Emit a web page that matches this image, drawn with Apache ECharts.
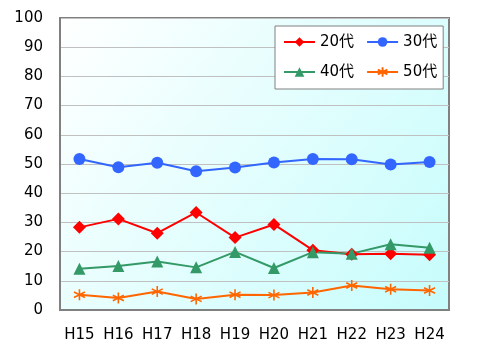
<!DOCTYPE html>
<html>
<head>
<meta charset="utf-8">
<script src="https://cdn.jsdelivr.net/npm/echarts@6/dist/echarts.min.js"></script>
<style>
  html, body { margin: 0; padding: 0; background: #fff; }
  #main { width: 500px; height: 353px; }
</style>
</head>
<body>
<div id="main"></div>
<script>
const years = ['H15', 'H16', 'H17', 'H18', 'H19', 'H20', 'H21', 'H22', 'H23', 'H24']
const age20 = [28.3, 31.2, 26.3, 33.4, 24.8, 29.3, 20.5, 19.1, 19.3, 18.9]
const age30 = [51.7, 48.9, 50.4, 47.5, 48.8, 50.5, 51.7, 51.6, 49.8, 50.7]
const age40 = [14.1, 15.1, 16.6, 14.6, 19.9, 14.4, 19.8, 19.3, 22.5, 21.3]
const age50 = [5.2, 4.1, 6.3, 3.8, 5.2, 5.1, 6.0, 8.4, 7.1, 6.7]

const font = 'DejaVu Sans, Verdana, "Noto Sans CJK JP", sans-serif'
const asterisk = 'path://M5,0L5,10M0.7,2.5L9.3,7.5M0.7,7.5L9.3,2.5'

const chart = echarts.init(document.getElementById('main'), null, { renderer: 'canvas' })

function line(name, data, color, symbol, size, extra) {
  return Object.assign({
    name: name,
    type: 'line',
    data: data,
    symbol: symbol,
    symbolSize: size,
    lineStyle: { color: color, width: 2 },
    itemStyle: { color: color },
    emphasis: { disabled: true },
    animation: false
  }, extra || {})
}

const option = {
  animation: false,
  textStyle: { fontFamily: font },
  color: ['#ff0000', '#3366ff', '#339966', '#ff6600'],
  legend: {
    left: 275,
    top: 26,
    width: 158,
    padding: [7, 6, 8, 8],
    itemGap: 12,
    itemWidth: 31,
    itemHeight: 12,
    backgroundColor: '#ffffff',
    borderColor: '#808080',
    borderWidth: 1,
    textStyle: { fontSize: 15, lineHeight: 18, color: '#000', fontFamily: font },
    data: ['20代', '30代', '40代', '50代']
  },
  grid: {
    left: 60,
    right: 51,
    top: 18,
    bottom: 43,
    show: true,
    borderColor: '#808080',
    borderWidth: 2,
    backgroundColor: new echarts.graphic.LinearGradient(0, 0, 1, 1, [
      { offset: 0, color: '#ffffff' },
      { offset: 1, color: '#c6fcfc' }
    ])
  },
  xAxis: {
    type: 'category',
    data: years,
    boundaryGap: true,
    axisLine: { lineStyle: { color: '#808080', width: 2 } },
    axisTick: { inside: true, length: 5, interval: 0, lineStyle: { color: '#808080' } },
    axisLabel: { fontSize: 15, color: '#000', margin: 18, interval: 0, fontFamily: font }
  },
  yAxis: {
    type: 'value',
    min: 0,
    max: 100,
    interval: 10,
    axisLine: { show: true, lineStyle: { color: '#808080', width: 2 } },
    axisTick: { show: false },
    axisLabel: { fontSize: 15, color: '#000', margin: 17, fontFamily: font },
    splitLine: { lineStyle: { color: '#c0c0c0', width: 1 } }
  },
  series: [
    line('20代', age20, '#ff0000', 'diamond', 13),
    line('30代', age30, '#3366ff', 'circle', 12),
    line('40代', age40, '#339966', 'triangle', 12),
    line('50代', age50, '#ff6600', asterisk, 11, {
      itemStyle: { color: '#ff6600', borderColor: '#ff6600', borderWidth: 1.6 }
    })
  ]
}
chart.setOption(option)
</script>
</body>
</html>
